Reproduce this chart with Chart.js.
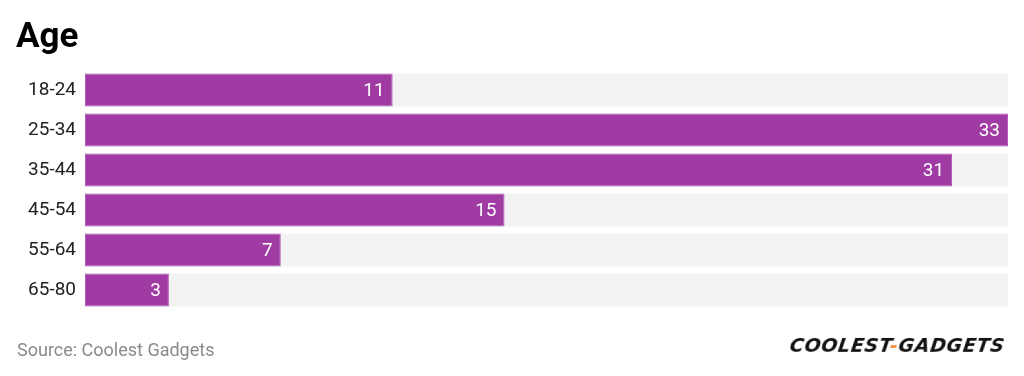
<!DOCTYPE html>
<html>
<head>
<meta charset="utf-8">
<script src="https://cdn.jsdelivr.net/npm/chart.js@4"></script>
<style>
  html, body { margin: 0; padding: 0; background: #fff; }
  #wrap { position: relative; width: 1024px; height: 376px; overflow: hidden; }
  #chart { position: absolute; left: 0; top: 0; }
  #title { position: absolute; left: 16px; top: 15px; font: bold 35px Roboto, sans-serif; color: #000; }
  #source { position: absolute; left: 17px; top: 339px; font: 18px Roboto, sans-serif; color: #8a8a8a; }
  #logo { position: absolute; left: 790px; top: 334px; font: italic 900 19px "DejaVu Sans", sans-serif; color: #111; letter-spacing: 0.7px; transform: skewX(-8deg); }
  #logo span { color: #f08a3c; }
</style>
</head>
<body>
<div id="wrap">
  <canvas id="chart" width="1024" height="376"></canvas>
  <div id="title">Age</div>
  <div id="source">Source: Coolest Gadgets</div>
  <div id="logo">COOLEST<span>-</span>GADGETS</div>
</div>
<script>
const ageGroups = ['18-24', '25-34', '35-44', '45-54', '55-64', '65-80'];
const shareValues = [11, 33, 31, 15, 7, 3];
const maxValue = 33;
const trackValues = ageGroups.map(() => maxValue);

// white value labels at the end of each bar
const valueLabels = {
  id: 'valueLabels',
  afterDatasetsDraw(chart) {
    const ctx = chart.ctx;
    const meta = chart.getDatasetMeta(0);
    ctx.save();
    ctx.font = '19px Roboto, sans-serif';
    ctx.fillStyle = '#ffffff';
    ctx.textAlign = 'right';
    ctx.textBaseline = 'middle';
    meta.data.forEach((bar, i) => {
      ctx.fillText(String(shareValues[i]), bar.x - 8, bar.y + 1);
    });
    ctx.restore();
  }
};

new Chart(document.getElementById('chart'), {
  type: 'bar',
  data: {
    labels: ageGroups,
    datasets: [
      {
        label: 'Share',
        data: shareValues,
        backgroundColor: '#a03ba4',
        borderColor: '#b45db8',
        borderWidth: 1,
        borderSkipped: false,
        grouped: false,
        order: 1
      },
      {
        label: 'Track',
        data: trackValues,
        backgroundColor: '#f2f2f2',
        borderWidth: 0,
        grouped: false,
        order: 2
      }
    ]
  },
  options: {
    indexAxis: 'y',
    responsive: false,
    animation: false,
    layout: { padding: { top: 70, bottom: 66, left: 0, right: 16 } },
    categoryPercentage: 0.83,
    barPercentage: 1,
    plugins: {
      legend: { display: false },
      tooltip: { enabled: false }
    },
    scales: {
      x: {
        display: false,
        min: 0,
        max: maxValue
      },
      y: {
        grid: { display: false, drawTicks: false },
        border: { display: false },
        afterFit(scale) { scale.width = 85; },
        ticks: {
          color: '#222',
          padding: 9,
          font: { family: 'Roboto', size: 19 }
        }
      }
    }
  },
  plugins: [valueLabels]
});
</script>
</body>
</html>
